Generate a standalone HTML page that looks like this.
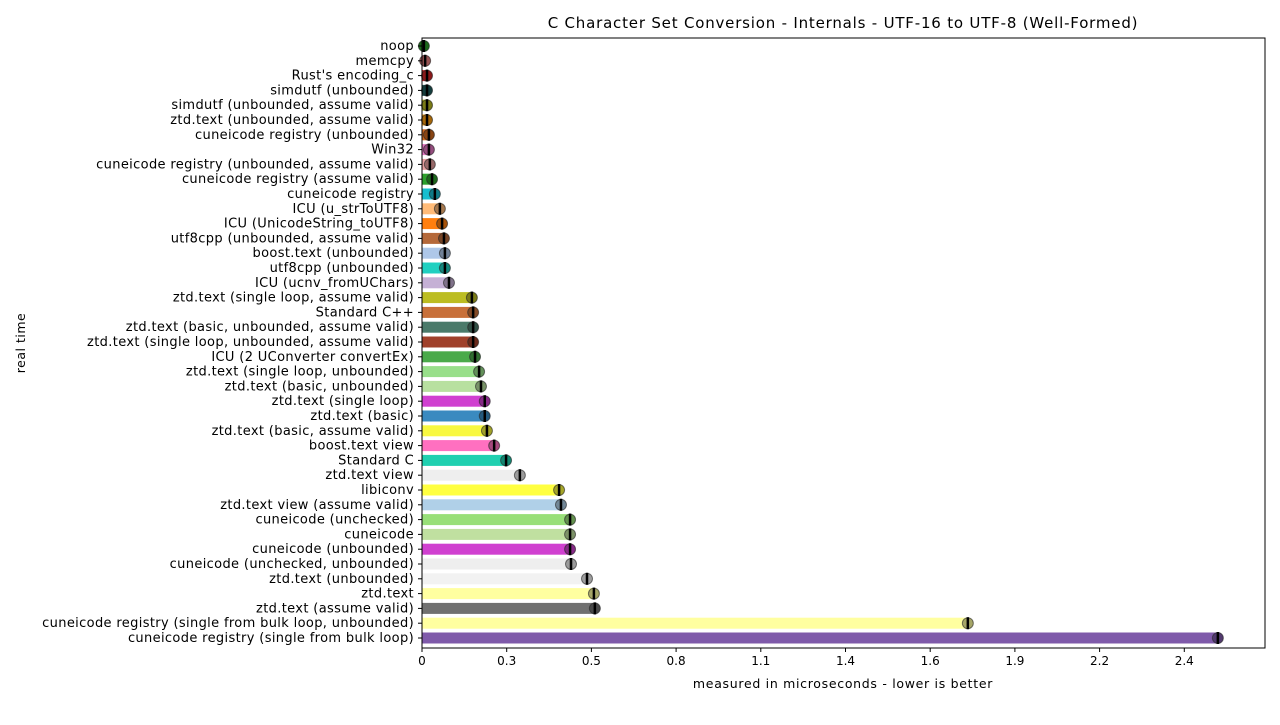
<!DOCTYPE html>
<html><head><meta charset="utf-8"><style>
body{margin:0;background:#fff;font-family:"Liberation Sans","DejaVu Sans",sans-serif}
svg text{font-family:"DejaVu Sans","Liberation Sans",sans-serif;font-size:12px;fill:#000}
svg text.yl{font-size:13px;letter-spacing:0.35px}
</style></head><body>
<svg id="c" width="1280" height="720" xmlns="http://www.w3.org/2000/svg">
<text x="843" y="28" text-anchor="middle" style="font-size:15px;letter-spacing:0.8px">C Character Set Conversion - Internals - UTF-16 to UTF-8 (Well-Formed)</text>
<text x="843" y="688" text-anchor="middle" style="font-size:12.5px;letter-spacing:0.7px">measured in microseconds - lower is better</text>
<text transform="translate(25,343) rotate(-90)" text-anchor="middle" style="font-size:12.5px;letter-spacing:0.5px">real time</text>
<g id="plot"></g>
</svg>
<script>
const categories=["noop","memcpy","Rust's encoding_c","simdutf (unbounded)","simdutf (unbounded, assume valid)","ztd.text (unbounded, assume valid)","cuneicode registry (unbounded)","Win32","cuneicode registry (unbounded, assume valid)","cuneicode registry (assume valid)","cuneicode registry","ICU (u_strToUTF8)","ICU (UnicodeString_toUTF8)","utf8cpp (unbounded, assume valid)","boost.text (unbounded)","utf8cpp (unbounded)","ICU (ucnv_fromUChars)","ztd.text (single loop, assume valid)","Standard C++","ztd.text (basic, unbounded, assume valid)","ztd.text (single loop, unbounded, assume valid)","ICU (2 UConverter convertEx)","ztd.text (single loop, unbounded)","ztd.text (basic, unbounded)","ztd.text (single loop)","ztd.text (basic)","ztd.text (basic, assume valid)","boost.text view","Standard C","ztd.text view","libiconv","ztd.text view (assume valid)","cuneicode (unchecked)","cuneicode","cuneicode (unbounded)","cuneicode (unchecked, unbounded)","ztd.text (unbounded)","ztd.text","ztd.text (assume valid)","cuneicode registry (single from bulk loop, unbounded)","cuneicode registry (single from bulk loop)"];
const values=[0.006,0.01,0.016,0.016,0.016,0.016,0.022,0.022,0.025,0.032,0.041,0.057,0.064,0.07,0.073,0.073,0.086,0.159,0.163,0.163,0.163,0.169,0.182,0.188,0.2,0.2,0.207,0.23,0.268,0.312,0.437,0.443,0.472,0.472,0.472,0.475,0.526,0.548,0.551,1.74,2.537];
const colors=["#2ca02c","#e88080","#d62728","#1f5f5f","#bcbd22","#ff9f0e","#d2691e","#e377c2","#e8a0a0","#2ca02c","#17becf","#ffbb78","#ff7f0e","#b5693a","#aec7e8","#20d0c0","#c5b0d5","#bcbd22","#c8703a","#4a7a6a","#a0402a","#4aaa4a","#98df8a","#b8e0a0","#d040d0","#3a8ac0","#f8f840","#ff70c0","#20d0b0","#eeeeee","#ffff40","#b0d0e8","#98df78","#c0e0a0","#d040d0","#eeeeee","#f2f2f2","#ffffa0","#707070","#ffffa0","#7f5aaa"];
const tickVals=[0,0.27,0.54,0.81,1.08,1.35,1.62,1.89,2.16,2.43];
const tickLabels=["0","0.3","0.5","0.8","1.1","1.4","1.6","1.9","2.2","2.4"];
const L=422,R=1265,T=38,B=648;
const x=v=>L+v*313.7;
const y=i=>46+i*14.8;
const NS="http://www.w3.org/2000/svg";
const g=document.getElementById('plot');
function mk(t,a){const e=document.createElementNS(NS,t);for(const k in a)e.setAttribute(k,a[k]);g.appendChild(e);return e;}
categories.forEach((c,i)=>{
 const bar=mk('rect',{x:L,y:y(i)-5.5,width:Math.max(0,x(values[i])-L),height:11,fill:colors[i]});
 
 
 const m=mk('circle',{cx:x(values[i]),cy:y(i),r:5.5,fill:colors[i],stroke:'#333','stroke-opacity':0.6});
 
 
 const sh=mk('circle',{cx:x(values[i]),cy:y(i),r:5.5,fill:'#000','fill-opacity':0.35});
 
 
 const eb=mk('line',{x1:x(values[i]),x2:x(values[i]),y1:y(i)-6,y2:y(i)+6,stroke:'#000','stroke-width':2.5});
 
 
 mk('line',{x1:L-4,x2:L,y1:y(i),y2:y(i),stroke:'#000'});
 const t=mk('text',{x:L-8,y:y(i)+4,'text-anchor':'end','class':'yl'});t.textContent=c;
 
 
});
tickVals.forEach((v,i)=>{
 mk('line',{x1:x(v),x2:x(v),y1:B,y2:B+4,stroke:'#000'});
 const t=mk('text',{x:x(v),y:B+17,'text-anchor':'middle'});t.textContent=tickLabels[i];
 
 
});
const fr=mk('rect',{x:L,y:T,width:R-L,height:B-T,fill:'none',stroke:'#000','stroke-width':1});


</script>
</body></html>
